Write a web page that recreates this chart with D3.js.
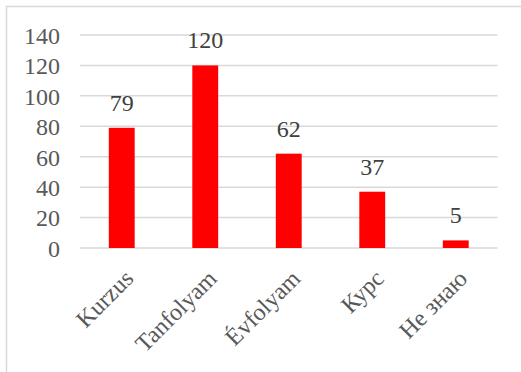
<!DOCTYPE html>
<html>
<head>
<meta charset="utf-8">
<script src="https://cdn.jsdelivr.net/npm/d3@7"></script>
<style>
  html, body { margin: 0; padding: 0; background: #fff; }
  svg { display: block; }
  svg text { font-family: "Liberation Serif", "DejaVu Serif", serif; }
</style>
</head>
<body>
<svg id="chart" width="521" height="372"></svg>
<script>
// Answers by category
const categories = ["Kurzus", "Tanfolyam", "Évfolyam", "Курс", "Не знаю"];
const values = [79, 120, 62, 37, 5];
const yTicks = [0, 20, 40, 60, 80, 100, 120, 140];

const W = 521, H = 372;
const plot = { left: 80, right: 497.5, top: 35, bottom: 248 };
const fontSize = 24;
const textColor = "#595959";
const gridColor = "#d9d9d9";

const svg = d3.select("#chart");

// Chart frame
svg.append("rect")
  .attr("x", 6.5).attr("y", 6.5)
  .attr("width", W).attr("height", H)
  .attr("fill", "#fff")
  .attr("stroke", gridColor)
  .attr("stroke-width", 1.5);

const x = d3.scaleBand()
  .domain(categories)
  .range([plot.left, plot.right])
  .paddingInner(0.69)
  .paddingOuter(0.345);

const y = d3.scaleLinear()
  .domain([0, 140])
  .range([plot.bottom, plot.top]);

// Horizontal gridlines
svg.append("g")
  .selectAll("line")
  .data(yTicks)
  .join("line")
  .attr("x1", plot.left).attr("x2", plot.right)
  .attr("y1", d => y(d)).attr("y2", d => y(d))
  .attr("stroke", gridColor)
  .attr("stroke-width", 1.5);

// Y axis labels
const yAxis = d3.axisLeft(y).tickValues(yTicks).tickSize(0).tickPadding(20);
const yg = svg.append("g")
  .attr("transform", `translate(${plot.left},0)`)
  .call(yAxis)
  .attr("font-family", null)
  .attr("font-size", null);
yg.select(".domain").remove();
yg.selectAll("text")
  .attr("dy", "0.35em")
  .style("font-size", fontSize + "px")
  .attr("fill", textColor);

// Bars
svg.append("g")
  .selectAll("rect")
  .data(values)
  .join("rect")
  .attr("x", (d, i) => x(categories[i]))
  .attr("y", d => y(d))
  .attr("width", x.bandwidth())
  .attr("height", d => y(0) - y(d))
  .attr("fill", "#ff0000");

// Value labels
svg.append("g")
  .selectAll("text")
  .data(values)
  .join("text")
  .attr("x", (d, i) => x(categories[i]) + x.bandwidth() / 2)
  .attr("y", d => y(d) - 17)
  .attr("text-anchor", "middle")
  .style("font-size", fontSize + "px")
  .attr("fill", "#404040")
  .text(d => d);

// Category labels, rotated
svg.append("g")
  .selectAll("text")
  .data(categories)
  .join("text")
  .attr("transform", d => {
    const cx = x(d) + x.bandwidth() / 2;
    return `translate(${cx + 13},280) rotate(-45)`;
  })
  .attr("text-anchor", "end")
  .style("font-size", fontSize + "px")
  .attr("fill", textColor)
  .text(d => d);
</script>
</body>
</html>
